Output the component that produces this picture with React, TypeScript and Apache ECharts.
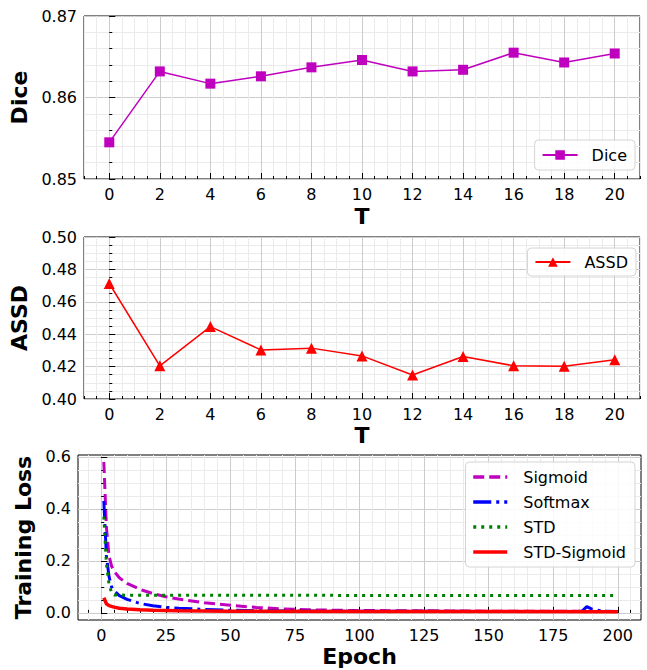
import React, { useEffect, useRef } from "react";
import * as echarts from "echarts";

// ---- Data ----
const tValues = [0, 2, 4, 6, 8, 10, 12, 14, 16, 18, 20];
const diceValues = [0.8545, 0.8632, 0.8617, 0.8626, 0.8637, 0.8646, 0.8632, 0.8634, 0.8655, 0.8643, 0.8654];
const assdValues = [0.4713, 0.4205, 0.4447, 0.4303, 0.4314, 0.4266, 0.4148, 0.4262, 0.4205, 0.4202, 0.4242];

const sigmoidEpochs = [1, 2, 3, 4, 5, 7, 10, 13, 16, 20, 25, 30, 40, 50, 60, 70, 80, 90, 100, 120, 140, 160, 180, 200];
const sigmoidLoss = [0.58, 0.33, 0.22, 0.18, 0.16, 0.135, 0.113, 0.1, 0.087, 0.074, 0.062, 0.053, 0.039, 0.029, 0.021, 0.015, 0.012, 0.01, 0.009, 0.008, 0.007, 0.006, 0.006, 0.005];

const softmaxEpochs = [1, 2, 3, 4, 5, 7, 10, 15, 20, 25, 30, 40, 50, 60, 80, 100, 130, 160, 186, 188, 190, 194, 200];
const softmaxLoss = [0.43, 0.22, 0.14, 0.1, 0.085, 0.066, 0.052, 0.036, 0.027, 0.021, 0.018, 0.013, 0.01, 0.008, 0.007, 0.006, 0.006, 0.005, 0.005, 0.024, 0.014, 0.007, 0.005];

const stdEpochs = [1, 2, 3, 4, 5, 10, 50, 100, 150, 200];
const stdLoss = [0.37, 0.19, 0.11, 0.078, 0.069, 0.068, 0.068, 0.067, 0.067, 0.067];

const stdSigmoidEpochs = [1, 2, 3, 5, 7, 10, 15, 20, 30, 50, 100, 150, 200];
const stdSigmoidLoss = [0.058, 0.035, 0.028, 0.022, 0.018, 0.015, 0.012, 0.01, 0.008, 0.006, 0.005, 0.005, 0.004];

const diceTicks = [0.85, 0.86, 0.87];
const assdTicks = [0.4, 0.42, 0.44, 0.46, 0.48, 0.5];
const lossTicks = [0, 0.2, 0.4, 0.6];
const epochTicks = [0, 25, 50, 75, 100, 125, 150, 175, 200];

// ---- helpers ----
function steps(start: number, end: number, step: number): number[] {
  const out: number[] = [];
  const n = Math.round((end - start) / step);
  for (let i = 0; i <= n; i++) out.push(+(start + i * step).toFixed(6));
  return out;
}
const zip = (xs: number[], ys: number[]) => xs.map((x, i) => [x, ys[i]]);

const FONT = "DejaVu Sans";
const labelStyle = { fontSize: 16, fontFamily: FONT, color: "#000" };
const nameStyle = { fontSize: 22, fontWeight: "bold" as const, fontFamily: FONT, color: "#000" };
const MAJOR_GRID = "#cccccc";
const MINOR_GRID = "#ebebeb";

function minorAxis(gridIndex: number, position: string, min: number, max: number, ticks: number[]) {
  return {
    type: "value",
    gridIndex,
    position,
    min,
    max,
    axisLine: { show: false },
    axisLabel: { show: false, customValues: ticks },
    axisTick: { show: true, inside: true, length: 3, customValues: ticks, lineStyle: { color: "#000", width: 1 } },
    splitLine: { show: true, lineStyle: { color: MINOR_GRID, width: 1 } },
  };
}

function majorAxis(
  gridIndex: number,
  position: string,
  min: number,
  max: number,
  ticks: number[],
  name: string,
  nameGap: number,
  fmt: (v: number) => string
) {
  return {
    type: "value",
    gridIndex,
    position,
    min,
    max,
    name,
    nameLocation: "middle",
    nameGap,
    nameTextStyle: nameStyle,
    axisLine: { show: false },
    axisLabel: { ...labelStyle, margin: 7, customValues: ticks, formatter: (v: number) => fmt(v) },
    axisTick: { show: true, inside: true, length: 6, customValues: ticks, lineStyle: { color: "#000", width: 1 } },
    splitLine: { show: true, lineStyle: { color: MAJOR_GRID, width: 1 } },
  };
}

export default function App() {
  const ref = useRef<HTMLDivElement>(null);
  useEffect(() => {
    if (!ref.current) return;
    const chart = echarts.init(ref.current, undefined, { renderer: "svg" });

    const grids = [
      { left: 84, top: 16, width: 556, height: 163 },
      { left: 84, top: 237, width: 556, height: 162 },
      { left: 78, top: 455, width: 563, height: 165 },
    ].map((g) => ({ ...g, show: true, borderColor: "#000", borderWidth: 1, backgroundColor: "transparent", containLabel: false }));

    const xAxis = [
      minorAxis(0, "bottom", -1, 21, steps(-1, 21, 0.5)),
      minorAxis(1, "bottom", -1, 21, steps(-1, 21, 0.5)),
      minorAxis(2, "bottom", -9, 209, steps(-5, 205, 5)),
      majorAxis(0, "bottom", -1, 21, tValues, "T", 26, (v) => String(v)),
      majorAxis(1, "bottom", -1, 21, tValues, "T", 25, (v) => String(v)),
      majorAxis(2, "bottom", -9, 209, epochTicks, "Epoch", 25, (v) => String(v)),
    ];
    const yAxis = [
      minorAxis(0, "left", 0.85, 0.87, steps(0.85, 0.87, 0.002)),
      minorAxis(1, "left", 0.4, 0.5, steps(0.4, 0.5, 0.005)),
      minorAxis(2, "left", -0.0275, 0.607, steps(0, 0.6, 0.05)),
      majorAxis(0, "left", 0.85, 0.87, diceTicks, "Dice", 50, (v) => v.toFixed(2)),
      majorAxis(1, "left", 0.4, 0.5, assdTicks, "ASSD", 50, (v) => v.toFixed(2)),
      majorAxis(2, "left", -0.0275, 0.607, lossTicks, "Training Loss", 44, (v) => v.toFixed(1)),
    ];

    const legendBase = {
      orient: "vertical",
      textStyle: { ...labelStyle, padding: [0, 0, 0, 9] },
      borderColor: "#d4d4d4",
      borderWidth: 1,
      borderRadius: 4,
      backgroundColor: "rgba(255,255,255,0.85)",
    };

    chart.setOption({
      animation: false,
      backgroundColor: "#fff",
      grid: grids,
      xAxis,
      yAxis,
      legend: [
        { ...legendBase, data: ["Dice"], right: 12, top: 140, itemWidth: 35, itemHeight: 12, padding: [7, 8, 7, 7], lineStyle: { width: 2 } },
        { ...legendBase, data: ["ASSD"], right: 11, top: 248, itemWidth: 35, itemHeight: 12, padding: [6, 8, 6, 7], lineStyle: { width: 2 } },
        {
          ...legendBase,
          textStyle: { ...labelStyle, padding: [0, 0, 0, 11] },
          data: ["Sigmoid", "Softmax", "STD", "STD-Sigmoid"],
          right: 12,
          top: 462,
          itemWidth: 34,
          itemHeight: 14,
          itemGap: 9,
          padding: [7, 9, 7, 6],
          lineStyle: { width: 3.5 },
          itemStyle: { opacity: 0, color: "transparent", borderWidth: 0 },
        },
      ],
      series: [
        {
          name: "Dice",
          type: "line",
          xAxisIndex: 3,
          yAxisIndex: 3,
          data: zip(tValues, diceValues),
          symbol: "rect",
          symbolSize: 10,
          itemStyle: { color: "#bf00bf" },
          lineStyle: { color: "#bf00bf", width: 1.5 },
        },
        {
          name: "ASSD",
          type: "line",
          xAxisIndex: 4,
          yAxisIndex: 4,
          data: zip(tValues, assdValues),
          symbol: "triangle",
          symbolSize: 11,
          itemStyle: { color: "#ff0000" },
          lineStyle: { color: "#ff0000", width: 1.5 },
        },
        {
          name: "Sigmoid",
          type: "line",
          xAxisIndex: 5,
          yAxisIndex: 5,
          data: zip(sigmoidEpochs, sigmoidLoss),
          symbol: "none",
          itemStyle: { color: "#bf00bf" },
          lineStyle: { color: "#bf00bf", width: 3, type: [11, 5], cap: "butt" },
        },
        {
          name: "Softmax",
          type: "line",
          xAxisIndex: 5,
          yAxisIndex: 5,
          data: zip(softmaxEpochs, softmaxLoss),
          symbol: "none",
          itemStyle: { color: "#0000ff" },
          lineStyle: { color: "#0000ff", width: 3, type: [18, 5, 3, 5], cap: "butt" },
        },
        {
          name: "STD",
          type: "line",
          xAxisIndex: 5,
          yAxisIndex: 5,
          data: zip(stdEpochs, stdLoss),
          symbol: "none",
          itemStyle: { color: "#008000" },
          lineStyle: { color: "#008000", width: 3, type: [3, 5], cap: "butt" },
        },
        {
          name: "STD-Sigmoid",
          type: "line",
          xAxisIndex: 5,
          yAxisIndex: 5,
          data: zip(stdSigmoidEpochs, stdSigmoidLoss),
          symbol: "none",
          itemStyle: { color: "#ff0000" },
          lineStyle: { color: "#ff0000", width: 3.5 },
        },
      ],
    });
    return () => chart.dispose();
  }, []);

  return <div ref={ref} style={{ width: 647, height: 670, position: "absolute", left: 0, top: 0 }} />;
}
